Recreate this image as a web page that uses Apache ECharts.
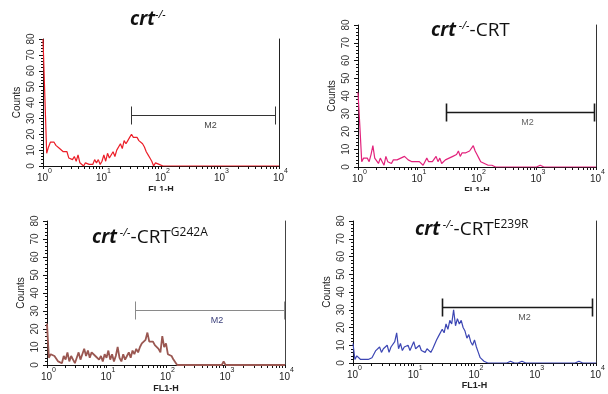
<!DOCTYPE html>
<html>
<head>
<meta charset="utf-8">
<script src="https://cdn.jsdelivr.net/npm/echarts@6/dist/echarts.min.js"></script>
<style>
html,body{margin:0;padding:0;background:#fff;}
#chart{width:608px;height:394px;}
</style>
</head>
<body>
<div id="chart"></div>
<script>
// FL1-H histograms, 32 channels per decade: channel i sits at 10^(i/32)
const CHANNELS_PER_DECADE = 32;
const decadeExponents = [0, 1, 2, 3, 4];

const countsKO = [
  80,44,8,12,15,14,15,13,14,11,12,9,8,9,5,6,
  4,6,3,7,2,1,0,2,3,1,2,1,4,2,4,1,
  3,7,3,8,5,6,9,6,10,11,14,11,16,14,16,18,
  20,18,19,18,16,15,14,12,9,7,5,3,0,2,3,1,
  0,0,0,0,0,0,0,0,0,0,0,0,0,0,0,0,
  0,0,0,0,0,0,0,0,0,0,0,0,0,0,0,0,
  0,0,0,0,0,0,0,0,0,0,0,0,0,0,0,0,
  0,0,0,0,0,0,0,0,0,0,0,0,0,0,0,0,
  0
];
const countsCRT = [
  42,23,3,5,4,5,3,7,12,5,6,2,5,3,1,6,
  3,4,2,4,3,4,3,5,4,6,7,4,3,3,2,3,
  2,3,2,1,3,5,3,4,3,4,6,3,5,2,3,4,
  3,5,4,6,5,7,9,6,8,9,8,7,9,8,12,9,
  7,5,3,2,2,1,1,0,1,1,0,0,0,0,0,0,
  0,0,0,0,0,0,0,0,0,0,0,0,0,0,0,0,
  0,0,1,0,0,0,0,0,0,0,0,0,0,0,0,0,
  0,0,0,1,0,0,0,0,0,0,0,0,0,0,0,0,
  0
];
const countsG242A = [
  23,4,6,7,5,6,2,3,1,5,3,7,2,5,3,1,
  4,7,3,6,9,5,8,4,7,8,5,6,3,5,2,6,
  4,8,3,6,2,5,10,4,2,6,3,5,7,4,8,6,
  9,7,10,12,11,14,18,13,12,13,11,12,9,7,16,10,
  12,6,7,5,3,2,0,0,0,0,0,0,0,0,0,0,
  0,0,0,0,0,0,0,0,0,0,0,0,0,0,0,2,
  0,0,0,0,0,0,0,0,0,0,0,0,0,0,0,0,
  0,0,0,0,0,0,0,0,0,0,0,0,0,0,0,0,
  0
];
const countsE239R = [
  11,2,4,3,2,3,2,1,2,1,3,4,7,6,9,6,
  8,7,10,6,9,8,12,17,8,11,7,9,8,10,7,8,
  12,8,9,10,7,8,6,8,7,6,8,7,13,15,14,19,
  17,22,19,24,22,30,21,25,22,24,20,18,14,16,12,10,
  13,9,6,3,2,1,2,0,0,0,0,0,0,0,0,0,
  0,0,0,1,0,0,0,0,0,1,0,0,0,0,1,0,
  0,0,0,0,1,0,0,0,0,0,0,0,0,0,0,0,
  0,0,0,0,0,0,0,1,0,0,0,0,0,0,0,0,
  0
];

// M2 gate per panel: [start decade, end decade, marker height in counts]
const gateKO    = [1.49, 3.93, 32];
const gateCRT   = [1.475, 3.97, 31];
const gateG242A = [1.48, 3.98, 30.5];
const gateE239R = [1.466, 3.93, 31.4];

const FONT = 'Liberation Sans, Arial, sans-serif';
const TFONT = 'Open Sans, sans-serif';

const panels = [
  { title: '{i|crt}{s|-/-}', tx: 130, ty: 20,
    grid: {left: 43, top: 39, width: 236, height: 127}, nameGap: 19,
    counts: countsKO, color: '#ec1d27', lw: 1.2,
    gate: gateKO, gateColor: '#333', gateW: 1, gateText: '#444', frame: '#222' },
  { title: '{i|crt}{s| -/-}{r|-CRT}', tx: 431, ty: 31,
    grid: {left: 358, top: 25, width: 244, height: 142}, nameGap: 19,
    counts: countsCRT, color: '#e2237c', lw: 1.2,
    gate: gateCRT, gateColor: '#1a1a1a', gateW: 1.6, gateText: '#666', frame: '#333' },
  { title: '{i|crt}{s| -/-}{r|-CRT}{g|G242A}', tx: 92, ty: 238,
    grid: {left: 47, top: 221, width: 238, height: 144}, nameGap: 19,
    counts: countsG242A, color: '#9a5751', lw: 1.8,
    gate: gateG242A, gateColor: '#8a8a8a', gateW: 1, gateText: '#3a3f7a', frame: '#444' },
  { title: '{i|crt}{s| -/-}{r|-CRT}{g|E239R}', tx: 415, ty: 230,
    grid: {left: 353, top: 221, width: 259, height: 142}, nameGap: 17,
    counts: countsE239R, color: '#3c46b4', lw: 1.2,
    gate: gateE239R, gateColor: '#1a1a1a', gateW: 1.6, gateText: '#555', frame: '#333' }
];

// tick marks at 1..9 x 10^n on the log FL1-H axis
const tickDecades = [];
for (let d = 0; d < 4; d++) {
  for (let k = 1; k <= 9; k++) tickDecades.push(d + Math.log10(k));
}
tickDecades.push(4);

const titleRich = {
  i: {fontFamily: TFONT, fontWeight: 'bold', fontStyle: 'italic', fontSize: 19, lineHeight: 26, fill: '#111'},
  s: {fontFamily: TFONT, fontStyle: 'italic', fontSize: 11, height: 15, verticalAlign: 'top', fill: '#111'},
  r: {fontFamily: TFONT, fontSize: 19, lineHeight: 26, fill: '#111'},
  g: {fontFamily: TFONT, fontSize: 12, height: 16, verticalAlign: 'top', fill: '#111'}
};

const grids = [], xAxes = [], yAxes = [], series = [], graphics = [];

panels.forEach((p, k) => {
  grids.push(Object.assign({containLabel: false}, p.grid));

  xAxes.push({
    gridIndex: k, type: 'value', min: 0, max: 4, interval: 1,
    axisLine: {show: true, onZero: false, lineStyle: {color: '#111', width: 1}},
    axisTick: {show: true, length: 3, customValues: tickDecades, lineStyle: {color: '#111'}},
    axisLabel: {
      margin: 2, showMinLabel: true, showMaxLabel: true,
      formatter: v => '{b|10}{s|' + v + '}',
      rich: {
        b: {fontFamily: FONT, fontSize: 10, color: '#222', lineHeight: 20, padding: [0, 0, 0, 3]},
        s: {fontFamily: FONT, fontSize: 7, color: '#222', lineHeight: 7, verticalAlign: 'top'}
      }
    },
    splitLine: {show: false},
    name: 'FL1-H', nameLocation: 'middle', nameGap: p.nameGap,
    nameTextStyle: {fontFamily: FONT, fontSize: 9, fontWeight: 'bold', color: '#222'}
  });

  yAxes.push({
    gridIndex: k, type: 'value', min: 0, max: 80, interval: 10, position: 'left',
    axisLine: {show: true, lineStyle: {color: '#111', width: 1}},
    axisTick: {show: true, length: 4, lineStyle: {color: '#111'}},
    minorTick: {show: true, splitNumber: 5, length: 2, lineStyle: {color: '#111'}},
    splitLine: {show: false},
    axisLabel: {rotate: 90, margin: 7, fontSize: 10, fontFamily: FONT, color: '#333'},
    name: 'Counts', nameLocation: 'middle', nameGap: 21,
    nameTextStyle: {fontFamily: FONT, fontSize: 10, color: '#222'}
  });
  yAxes.push({
    gridIndex: k, type: 'value', min: 0, max: 80, position: 'right',
    axisLine: {show: true, lineStyle: {color: p.frame, width: 1}},
    axisTick: {show: false}, axisLabel: {show: false}, splitLine: {show: false}
  });

  series.push({
    type: 'line', xAxisIndex: k, yAxisIndex: 2 * k,
    showSymbol: false, symbol: 'none',
    lineStyle: {color: p.color, width: p.lw},
    data: p.counts.map((c, i) => [i / CHANNELS_PER_DECADE, c]),
    z: 3
  });

  series.push({
    type: 'custom', xAxisIndex: k, yAxisIndex: 2 * k,
    encode: {x: [0, 1], y: 2}, clip: false, z: 4,
    data: [p.gate],
    renderItem: (params, api) => {
      const a = api.coord([api.value(0), api.value(2)]);
      const b = api.coord([api.value(1), api.value(2)]);
      const y = Math.round(a[1]) + 0.5;
      const x1 = Math.round(a[0]) + 0.5, x2 = Math.round(b[0]) + 0.5;
      const st = {stroke: p.gateColor, lineWidth: p.gateW};
      const cap = 9;
      return {
        type: 'group',
        children: [
          {type: 'line', shape: {x1: x1, y1: y, x2: x2, y2: y}, style: st},
          {type: 'line', shape: {x1: x1, y1: y - cap, x2: x1, y2: y + cap}, style: st},
          {type: 'line', shape: {x1: x2, y1: y - cap, x2: x2, y2: y + cap}, style: st},
          {type: 'text', x: (x1 + x2) / 2 + 7, y: y + 10,
           style: {text: 'M2', fill: p.gateText, font: '9px ' + FONT, align: 'center', verticalAlign: 'middle'}}
        ]
      };
    }
  });

  graphics.push({
    type: 'text', x: p.tx, y: p.ty, z: 10,
    style: {text: p.title, rich: titleRich, align: 'left', verticalAlign: 'middle'}
  });
});

// lower edge of the top row of panels
graphics.push({type: 'rect', z: 100, shape: {x: 0, y: 191, width: 608, height: 13}, style: {fill: '#fff'}});

const chart = echarts.init(document.getElementById('chart'), null, {renderer: 'canvas'});
chart.setOption({
  animation: false,
  backgroundColor: '#fff',
  grid: grids,
  xAxis: xAxes,
  yAxis: yAxes,
  series: series,
  graphic: graphics
});
</script>
</body>
</html>
